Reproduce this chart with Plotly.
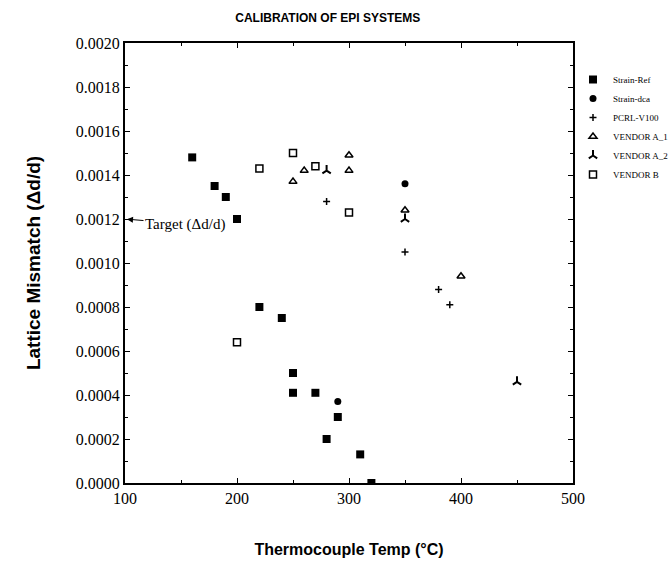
import plotly.graph_objects as go

# ---- data ----
ref_x = [160, 180, 190, 200, 220, 240, 250, 250, 270, 280, 290, 310, 320]
ref_y = [0.00148, 0.00135, 0.00130, 0.00120, 0.00080, 0.00075, 0.00050, 0.00041, 0.00041, 0.00020, 0.00030, 0.00013, 0.00000]

dca_x = [290, 350]
dca_y = [0.00037, 0.00136]

pcrl_x = [280, 350, 380, 390]
pcrl_y = [0.00128, 0.00105, 0.00088, 0.00081]

va1_x = [250, 260, 300, 300, 350, 400]
va1_y = [0.00137, 0.00142, 0.00149, 0.00142, 0.00124, 0.00094]

va2_x = [280, 350, 450]
va2_y = [0.00142, 0.00120, 0.00046]

vb_x = [200, 220, 250, 270, 300]
vb_y = [0.00064, 0.00143, 0.00150, 0.00144, 0.00123]

series = [
    ("Strain-Ref", ref_x, ref_y, dict(symbol="square", size=8, color="black")),
    ("Strain-dca", dca_x, dca_y, dict(symbol="circle", size=7, color="black")),
    ("PCRL-V100", pcrl_x, pcrl_y, dict(symbol="cross-thin", size=5, color="black", line=dict(width=1.5, color="black"))),
    ("VENDOR A_1", va1_x, va1_y, dict(symbol="triangle-up-open", size=7, color="black", line=dict(width=1.5, color="black"))),
    ("VENDOR A_2", va2_x, va2_y, dict(symbol="y-up-open", size=7, color="black", line=dict(width=2, color="black"))),
    ("VENDOR B", vb_x, vb_y, dict(symbol="square-open", size=7, color="black", line=dict(width=1.5, color="black"))),
]

fig = go.Figure()
for name, xs, ys, mk in series:
    fig.add_trace(go.Scatter(x=xs, y=ys, mode="markers", name=name, marker=mk))

serif = "Liberation Serif"
sans = "Liberation Sans"

fig.update_layout(
    width=669, height=571,
    margin=dict(l=125, r=96, t=43, b=88, autoexpand=False),
    paper_bgcolor="white", plot_bgcolor="white",
    title=dict(text="<b>CALIBRATION OF EPI SYSTEMS</b>", x=0.49, xanchor="center",
               y=0.968, yanchor="middle", font=dict(family=sans, size=12, color="black")),
    legend=dict(x=1.0, y=0.95, xanchor="left", yanchor="top",
                font=dict(family=serif, size=9, color="black"),
                bgcolor="rgba(0,0,0,0)", tracegroupgap=0, itemwidth=30),
    showlegend=True,
)

fig.update_xaxes(range=[100, 500], tickvals=[100, 200, 300, 400, 500], ticktext=["100", "200", "300", "400", "500"],
                 showline=True, linecolor="black", linewidth=2, mirror="ticks",
                 ticks="inside", ticklen=5, tickwidth=1, tickcolor="black",
                 minor=dict(dtick=50, ticks="inside", ticklen=3, tickcolor="black"),
                 showgrid=False, zeroline=False,
                 tickfont=dict(family=serif, size=16, color="black"),
                 title=dict(text="<b>Thermocouple Temp (°C)</b>", font=dict(family=sans, size=16, color="black"), standoff=38))

yt = [0.0000, 0.0002, 0.0004, 0.0006, 0.0008, 0.0010, 0.0012, 0.0014, 0.0016, 0.0018, 0.0020]
fig.update_yaxes(range=[0, 0.002], tickvals=yt, ticktext=[f"{v:.4f}" for v in yt],
                 showline=True, linecolor="black", linewidth=2, mirror="ticks",
                 ticks="inside", ticklen=5, tickwidth=1, tickcolor="black",
                 minor=dict(dtick=0.0001, ticks="inside", ticklen=3, tickcolor="black"),
                 showgrid=False, zeroline=False,
                 tickfont=dict(family=serif, size=16, color="black"),
                 title=dict(text="<b>Lattice Mismatch (Δd/d)</b>", font=dict(family=sans, size=19, color="black"), standoff=30))

fig.add_annotation(x=100, y=0.0012, xref="x", yref="y", text="Target (Δd/d)",
                   showarrow=True, arrowhead=2, arrowsize=1.2, arrowwidth=1, arrowcolor="black",
                   ax=60, ay=5, font=dict(family=serif, size=15, color="black"), standoff=2)

fig.write_html("out.html")
